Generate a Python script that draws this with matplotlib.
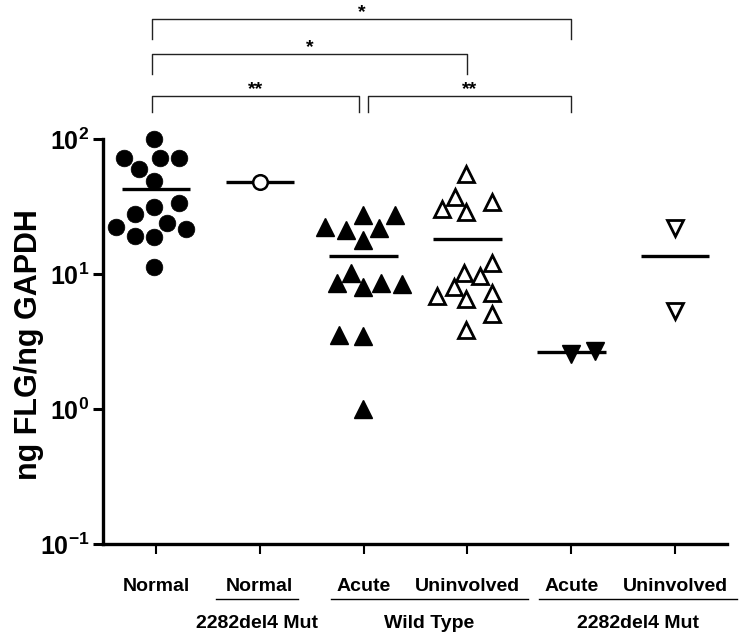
import numpy as np
import matplotlib
matplotlib.use('Agg')
import matplotlib.pyplot as plt
import matplotlib.transforms as mtransforms

plt.rcParams['font.family'] = ['Liberation Sans', 'DejaVu Sans']
plt.rcParams['font.weight'] = 'bold'
plt.rcParams['mathtext.fontset'] = 'custom'
plt.rcParams['mathtext.rm'] = 'Liberation Sans:bold'
plt.rcParams['mathtext.bf'] = 'Liberation Sans:bold'

# values (ng FLG / ng GAPDH)
normal = [100, 72, 72, 72, 60, 49, 33.6, 31.4, 27.8, 23.9, 22.3, 21.5, 19.1, 18.8, 11.3]
normal_mut = [48]
wt_acute = [27.4, 27.4, 22.3, 21.2, 21.9, 17.9, 10.2, 8.6, 8.0, 8.6, 8.4, 3.53, 3.47, 1.0]
wt_uninv = [55, 37.2, 30.3, 28.8, 34.1, 12.1, 10.2, 9.7, 8.0, 7.2, 6.9, 6.5, 5.06, 3.85]
mut_acute = [2.56, 2.69]
mut_uninv = [21.9, 5.3]

top_labels = ['Normal', 'Normal', 'Acute', 'Uninvolved', 'Acute', 'Uninvolved']
group_labels = ['2282del4 Mut', 'Wild Type', '2282del4 Mut']

# horizontal scatter of the points in each column (category units)
jit_normal = [-0.02, -0.31, 0.04, 0.22, -0.16, -0.02, 0.22, -0.02, -0.2, 0.11, -0.38, 0.29, -0.2, -0.02, -0.02]
jit_normal_mut = [0]
jit_wt_acute = [-0.01, 0.3, -0.37, -0.17, 0.15, -0.01, -0.12, -0.26, -0.01, 0.17, 0.37, -0.24, -0.01, -0.01]
jit_wt_uninv = [-0.01, -0.12, -0.25, -0.01, 0.24, 0.24, -0.03, 0.12, -0.13, 0.24, -0.29, -0.01, 0.24, -0.01]
jit_mut_acute = [0, 0.23]
jit_mut_uninv = [0, 0]

groups = [normal, normal_mut, wt_acute, wt_uninv, mut_acute, mut_uninv]
jitters = [jit_normal, jit_normal_mut, jit_wt_acute, jit_wt_uninv, jit_mut_acute, jit_mut_uninv]
styles = [
    dict(marker='o', ms=12, mfc='black', mec='black', mew=0.5),
    dict(marker='o', ms=10.5, mfc='white', mec='black', mew=1.8),
    dict(marker='^', ms=13, mfc='black', mec='black', mew=1),
    dict(marker='^', ms=11.5, mfc='white', mec='black', mew=2),
    dict(marker='v', ms=13, mfc='black', mec='black', mew=1),
    dict(marker='v', ms=11.5, mfc='white', mec='black', mew=2),
]

fig = plt.figure(figsize=(7.43, 6.42), dpi=100)
ax = fig.add_axes([0.1386, 0.1526, 0.84, 0.6308])

for i, (vals, jit, st) in enumerate(zip(groups, jitters, styles)):
    x = i + np.array(jit)
    ax.plot(x, vals, ls='none', clip_on=False, zorder=3, **st)
    m = np.mean(vals)
    ax.plot([i - 0.33, i + 0.33], [m, m], color='black', lw=2.4, zorder=2, solid_capstyle='butt')

ax.set_yscale('log')
ax.set_ylim(0.1, 100)
ax.set_xlim(-0.51, 5.5)
ax.set_yticks([0.1, 1, 10, 100])
ax.set_yticklabels([r'$\mathbf{10^{-1}}$', r'$\mathbf{10^{0}}$', r'$\mathbf{10^{1}}$', r'$\mathbf{10^{2}}$'],
                   fontsize=18)
ax.minorticks_off()
ax.set_xticks(range(6))
ax.set_xticklabels([])
for s in ['top', 'right']:
    ax.spines[s].set_visible(False)
for s in ['left', 'bottom']:
    ax.spines[s].set_linewidth(2.4)
ax.tick_params(axis='y', length=7, width=2.2, pad=3)
ax.tick_params(axis='x', length=7, width=1.5, pad=2)

trans = mtransforms.blended_transform_factory(ax.transData, ax.transAxes)

# category labels under the axis
for i, lab in enumerate(top_labels):
    ax.text(i, -0.106, lab, transform=trans, ha='center', va='center', fontsize=14)
spans = [(0.58, 1.37), (1.69, 3.58), (3.69, 5.6)]
for (a, b), lab in zip(spans, group_labels):
    ax.plot([a, b], [-0.136, -0.136], transform=trans, color='black', lw=1, clip_on=False)
    ax.text((a + b) / 2, -0.195, lab, transform=trans, ha='center', va='center', fontsize=14)

# significance brackets
brackets = [(-0.04, 4.0, 1.296, 1.247, '*'),
            (-0.04, 3.0, 1.21, 1.16, '*'),
            (-0.04, 1.96, 1.106, 1.067, '**'),
            (2.04, 4.0, 1.106, 1.067, '**')]
for a, b, top, bot, star in brackets:
    ax.plot([a, a, b, b], [bot, top, top, bot], transform=trans, color='#222222', lw=1, clip_on=False)
    ax.text((a + b) / 2, top + 0.004, star, transform=trans, ha='center', va='baseline', fontsize=14)

fig.text(0.039, 0.4626, 'ng FLG/ng GAPDH', rotation=90, ha='center', va='center', fontsize=22)

fig.savefig('out.png', dpi=100)
